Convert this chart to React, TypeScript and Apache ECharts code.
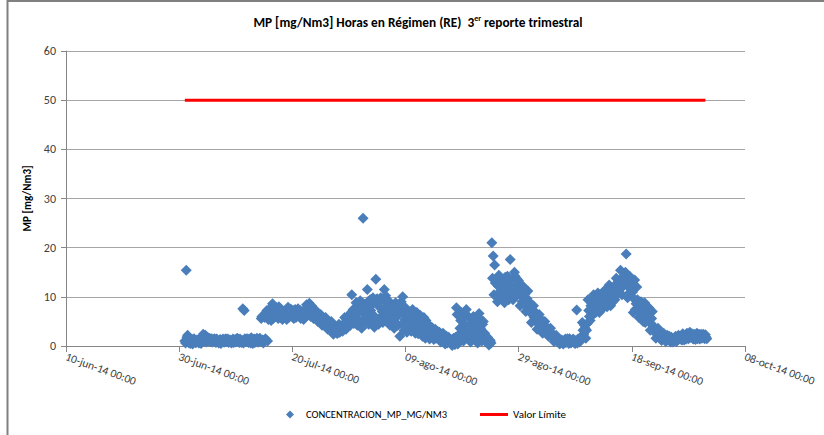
import React, { useEffect, useRef } from 'react';
import * as echarts from 'echarts';

// x axis: days after 10-jun-14 00:00
const xTickLabels = [
  '10-jun-14 00:00',
  '30-jun-14 00:00',
  '20-jul-14 00:00',
  '09-ago-14 00:00',
  '29-ago-14 00:00',
  '18-sep-14 00:00',
  '08-oct-14 00:00',
];
const xTickStepDays = 20;
const xMaxDays = 120;

const yTickValues = [0, 10, 20, 30, 40, 50, 60];

// readings every 6 hours starting 01-jul-14 00:00 (day 21 after 10-jun-14)
const readingsStartDay = 21;
const readingsStepHours = 6;
// 00h, 06h, 12h, 18h readings
const concentrationA = [
  1.0, 15.4, 2.2, 0.6, // 01-jul
  0.5, 1.3, 0.8, 1.2,
  0.7, 1.1, 0.6, 1.3,
  1.0, 2.4, 1.6, 0.8,
  1.8, 1.2, 0.9, 1.5,
  1.0, 1.5, 0.7, 1.2, // 06-jul
  0.6, 1.3, 0.9, 1.4,
  0.8, 1.5, 1.1, 0.7,
  1.2, 0.6, 1.4, 0.9,
  0.8, 1.6, 1.0, 1.4,
  0.7, 7.6, 7.2, 1.3, // 11-jul
  1.5, 0.7, 1.2, 1.7,
  0.5, 1.4, 0.9, 1.6,
  0.8, 1.6, 5.6, 1.2,
  6.3, 1.5, 7.2, 5.4,
  7.5, 5.2, 8.6, 6.0, // 16-jul
  6.0, 7.8, 5.6, 7.0,
  7.4, 5.4, 6.6, 7.2,
  5.4, 7.9, 6.2, 7.5,
  6.8, 5.6, 7.4, 6.0,
  7.6, 6.2, 5.6, 7.0, // 21-jul
  5.4, 7.2, 8.4, 6.4,
  8.7, 6.0, 7.8, 5.6,
  7.4, 6.4, 5.0, 6.0,
  6.4, 4.2, 5.4, 4.6,
  5.4, 3.4, 4.4, 3.8, // 26-jul
  3.6, 2.4, 3.0, 3.9,
  2.6, 4.4, 3.2, 3.8,
  4.0, 5.8, 3.4, 5.0,
  6.2, 4.2, 10.4, 7.4,
  5.0, 8.8, 4.2, 7.0, // 31-jul
  9.2, 3.6, 26.0, 6.4,
  8.0, 11.5, 4.4, 9.4,
  5.2, 9.8, 3.8, 13.6,
  9.6, 4.4, 7.8, 6.0,
  4.8, 11.5, 10.2, 6.6, // 05-ago
  9.2, 4.2, 7.0, 5.6,
  3.6, 8.8, 6.0, 7.8,
  2.0, 9.0, 10.0, 3.2,
  7.8, 2.8, 6.0, 4.4,
  3.0, 7.4, 4.6, 2.6, // 10-ago
  6.8, 2.5, 4.0, 5.6,
  2.0, 5.8, 1.6, 3.8,
  4.4, 1.4, 3.0, 2.2,
  1.3, 3.4, 2.0, 2.8,
  2.8, 0.8, 1.8, 1.2, // 15-ago
  0.4, 2.0, 1.0, 1.5,
  0.6, 0.1, 1.6, 0.3,
  7.8, 0.4, 2.4, 5.2,
  6.6, 1.0, 4.4, 7.4,
  3.0, 5.8, 0.8, 4.6, // 20-ago
  6.0, 2.2, 5.2, 0.6,
  6.6, 3.6, 1.0, 5.0,
  2.6, 0.8, 1.8, 0.2,
  1.0, 21.0, 18.3, 16.5,
  13.5, 9.0, 14.4, 11.0, // 25-ago
  10.2, 13.6, 8.8, 12.4,
  14.2, 9.4, 17.6, 11.8,
  9.4, 15.0, 12.2, 13.6,
  13.2, 8.2, 11.4, 9.8,
  11.8, 7.0, 9.6, 8.4, // 30-ago
  8.8, 4.8, 7.2, 5.8,
  6.8, 3.4, 5.4, 4.2,
  5.4, 2.6, 4.0, 3.2,
  3.8, 2.0, 3.0, 2.4,
  2.4, 0.9, 1.6, 1.2, // 04-sep
  1.4, 0.4, 0.9, 0.6,
  0.6, 1.4, 0.9, 1.2,
  1.5, 0.6, 1.1, 0.8,
  0.5, 7.3, 1.4, 0.8,
  1.2, 4.8, 2.4, 3.6, // 09-sep
  3.2, 9.4, 6.0, 8.2,
  6.2, 10.4, 8.0, 9.2,
  10.8, 6.8, 9.6, 8.0,
  7.8, 11.4, 9.0, 10.6,
  12.4, 8.2, 10.8, 11.8, // 14-sep
  9.4, 13.8, 11.2, 12.6,
  15.4, 10.4, 13.6, 14.6,
  18.7, 9.8, 13.8, 11.6,
  12.8, 6.8, 13.4, 8.6,
  9.4, 5.8, 7.6, 6.4, // 19-sep
  5.0, 8.8, 6.2, 7.6,
  7.8, 3.2, 5.6, 4.0,
  3.8, 1.6, 2.8, 2.0,
  2.8, 1.1, 1.8, 1.4,
  0.9, 2.2, 1.4, 1.0, // 24-sep
  1.8, 0.8, 1.2, 2.0,
  1.1, 2.2, 1.6, 1.3,
  2.5, 1.2, 1.9, 2.6,
  1.5, 2.8, 2.2, 1.6,
  2.4, 1.3, 2.6, 1.8, // 29-sep
  1.4, 2.4, 1.8, 2.2,
  2.3, 1.5, // 01-oct
];

// 03h, 09h, 15h, 21h readings
const concentrationB = [
  0.6, 1.8, 1.2, 0.9, // 01-jul
  1.0, 0.4, 1.5, 0.7,
  1.2, 0.8, 1.0, 0.5,
  2.0, 1.2, 2.2, 1.4,
  1.0, 1.6, 1.3, 0.8,
  1.3, 0.9, 1.4, 0.8, // 06-jul
  1.0, 0.5, 1.2, 0.8,
  1.3, 0.9, 1.4, 1.0,
  0.8, 1.1, 0.7, 1.3,
  1.2, 1.4, 0.7, 1.0,
  1.1, 0.6, 1.5, 0.9, // 11-jul
  1.0, 1.4, 0.6, 1.3,
  1.1, 0.7, 1.3, 0.8,
  1.3, 1.0, 6.0, 0.6,
  5.8, 6.8, 1.0, 6.0,
  6.4, 8.0, 5.6, 7.2, // 16-jul
  7.4, 6.4, 8.0, 5.8,
  6.0, 7.0, 5.8, 6.4,
  6.8, 5.8, 7.2, 6.4,
  7.2, 6.2, 5.8, 7.0,
  6.6, 7.2, 6.8, 5.8, // 21-jul
  6.8, 6.0, 7.6, 7.8,
  7.2, 8.2, 6.6, 7.0,
  6.8, 5.6, 6.2, 5.4,
  5.8, 5.0, 4.4, 5.8,
  4.8, 4.0, 3.6, 5.0, // 26-jul
  3.2, 2.8, 3.6, 2.6,
  3.4, 2.8, 4.0, 3.0,
  4.6, 3.8, 5.4, 4.4,
  5.0, 6.8, 5.6, 4.6,
  6.0, 7.6, 5.4, 8.2, // 31-jul
  7.8, 5.0, 8.6, 4.6,
  6.2, 9.0, 5.4, 7.2,
  8.4, 6.2, 9.4, 4.6,
  8.6, 5.2, 9.8, 7.0,
  9.4, 7.6, 5.4, 8.6, // 05-ago
  6.4, 8.4, 4.8, 8.0,
  5.0, 7.2, 4.2, 6.6,
  8.0, 4.4, 6.8, 5.4,
  3.6, 7.0, 5.2, 3.2,
  6.2, 3.6, 5.6, 4.0, // 10-ago
  3.2, 5.0, 6.2, 3.6,
  4.8, 2.8, 5.2, 2.4,
  3.6, 2.0, 3.8, 1.8,
  2.4, 1.6, 3.0, 1.8,
  2.2, 1.4, 2.6, 0.9, // 15-ago
  1.2, 0.6, 1.8, 0.8,
  1.2, 0.8, 0.4, 1.8,
  6.4, 1.4, 3.6, 6.8,
  5.6, 2.2, 3.2, 6.2,
  2.0, 4.0, 1.8, 5.4, // 20-ago
  4.4, 3.2, 1.4, 3.8,
  5.6, 2.4, 4.4, 2.0,
  1.8, 1.4, 0.6, 1.2,
  0.6, 13.8, 10.4, 12.8,
  10.4, 12.2, 9.6, 13.0, // 25-ago
  11.4, 9.4, 14.0, 10.8,
  12.8, 10.6, 13.4, 9.8,
  11.0, 14.2, 10.2, 12.6,
  10.6, 12.4, 9.0, 12.0,
  10.6, 8.0, 11.2, 7.6, // 30-ago
  7.8, 6.4, 8.2, 5.2,
  6.0, 4.8, 6.4, 3.8,
  4.6, 3.6, 5.0, 2.8,
  3.4, 2.6, 3.6, 2.2,
  2.0, 1.4, 2.2, 1.0, // 04-sep
  1.1, 0.7, 1.2, 0.4,
  1.0, 0.7, 1.5, 0.5,
  1.2, 0.9, 1.4, 0.6,
  1.1, 0.6, 1.2, 1.0,
  2.0, 3.2, 4.2, 1.6, // 09-sep
  4.6, 7.2, 5.2, 8.8,
  7.4, 8.6, 6.8, 9.8,
  7.4, 10.2, 8.6, 9.2,
  8.6, 10.0, 8.0, 11.0,
  9.4, 11.4, 9.0, 12.2, // 14-sep
  10.2, 12.0, 13.2, 10.8,
  11.8, 14.0, 12.4, 15.0,
  12.8, 10.6, 14.2, 12.2,
  11.0, 9.6, 7.4, 12.0,
  8.4, 6.8, 9.0, 5.6, // 19-sep
  6.8, 4.8, 8.2, 5.4,
  6.6, 4.6, 7.0, 3.6,
  3.2, 2.4, 3.6, 1.8,
  2.2, 1.6, 2.6, 1.2,
  1.6, 1.2, 2.0, 0.8, // 24-sep
  1.4, 1.0, 1.6, 0.9,
  1.8, 1.4, 2.0, 1.2,
  1.6, 2.2, 1.4, 2.0,
  2.0, 1.8, 2.5, 1.4,
  1.6, 2.2, 1.5, 2.4, // 29-sep
  2.0, 1.6, 2.4, 1.5,
  1.8, // 01-oct
];

const limitValue = 50;
const limitStartDay = 21; // 01-jul-14 00:00
const limitEndDay = 113; // 01-oct-14 00:00

const FONT = 'Carlito, Calibri, Lato, "Open Sans", sans-serif';

export default function App() {
  const ref = useRef<HTMLDivElement>(null);

  useEffect(() => {
    if (!ref.current) return;
    const chart = echarts.init(ref.current, null, { renderer: 'svg' });
    const stepDays = readingsStepHours / 24;
    const scatterData = [
      ...concentrationA.map((v, i) => [readingsStartDay + i * stepDays, v]),
      ...concentrationB.map((v, i) => [readingsStartDay + stepDays / 2 + i * stepDays, v]),
    ];
    const limitData = [
      [limitStartDay, limitValue],
      [limitEndDay, limitValue],
    ];

    chart.setOption({
      animation: false,
      backgroundColor: '#ffffff',
      textStyle: { fontFamily: FONT },
      grid: { left: 66, right: 79, top: 51, bottom: 89, outerBoundsMode: 'none' },
      xAxis: {
        type: 'value',
        min: 0,
        max: xMaxDays,
        interval: xTickStepDays,
        axisLine: { show: true, lineStyle: { color: '#868686', width: 1 } },
        axisTick: { show: true, length: 6, lineStyle: { color: '#868686' } },
        splitLine: { show: false },
        axisLabel: {
          rotate: -20,
          margin: 10,
          fontSize: 11.5,
          color: '#404040',
          fontFamily: FONT,
          showMinLabel: true,
          showMaxLabel: true,
          formatter: (v: number) => xTickLabels[Math.round(v / xTickStepDays)] ?? '',
        },
      },
      yAxis: {
        type: 'value',
        min: yTickValues[0],
        max: yTickValues[yTickValues.length - 1],
        interval: 10,
        name: 'MP [mg/Nm3]',
        nameLocation: 'middle',
        nameGap: 30,
        nameRotate: 90,
        nameTextStyle: { fontWeight: 'bold', fontSize: 11, color: '#000', fontFamily: FONT },
        axisLine: { show: true, lineStyle: { color: '#868686', width: 1 } },
        axisTick: { show: true, length: 5, lineStyle: { color: '#868686' } },
        splitLine: { show: true, lineStyle: { color: '#a6a6a6', width: 1 } },
        axisLabel: { margin: 10, fontSize: 12, color: '#404040', fontFamily: FONT },
      },
      legend: [
        {
          data: ['CONCENTRACION_MP_MG/NM3'],
          left: 281,
          top: 404,
          icon: 'diamond',
          itemWidth: 8,
          itemHeight: 8,
          textStyle: { fontSize: 10.5, color: '#000', fontFamily: FONT, padding: [0, 0, 0, 7] },
        },
        {
          data: ['Valor Límite'],
          left: 475,
          top: 404,
          icon: 'rect',
          itemWidth: 28,
          itemHeight: 3,
          textStyle: { fontSize: 11, color: '#000', fontFamily: FONT },
        },
      ],
      series: [
        {
          name: 'CONCENTRACION_MP_MG/NM3',
          type: 'scatter',
          symbol: 'diamond',
          symbolSize: 11,
          itemStyle: { color: '#4a7ebb', opacity: 1 },
          data: scatterData,
          z: 2,
        },
        {
          name: 'Valor Límite',
          type: 'line',
          data: limitData,
          symbol: 'none',
          showSymbol: false,
          itemStyle: { color: '#ff0000' },
          lineStyle: { color: '#ff0000', width: 3 },
          z: 3,
        },
      ],
      graphic: [
        {
          type: 'line',
          shape: { x1: 7.5, y1: 0, x2: 7.5, y2: 435 },
          style: { stroke: '#808080', lineWidth: 2 },
        },
        {
          type: 'line',
          shape: { x1: 7, y1: 1, x2: 824, y2: 1 },
          style: { stroke: '#808080', lineWidth: 2 },
        },
        {
          type: 'text',
          x: 418,
          y: 22,
          style: {
            text: '{a|MP [mg/Nm3] Horas en Régimen (RE)  3}{s|er}{a| reporte trimestral}',
            align: 'center',
            verticalAlign: 'middle',
            rich: {
              a: { fontSize: 13.3, fontWeight: 'bold', fontFamily: FONT, fill: '#000', lineHeight: 16 },
              s: { fontSize: 8, fontWeight: 'bold', fontFamily: FONT, fill: '#000', verticalAlign: 'top', lineHeight: 10 },
            },
          },
        },
      ],
    });

    return () => chart.dispose();
  }, []);

  return (
    <div
      ref={ref}
      style={{ position: 'fixed', left: 0, top: 0, width: 824, height: 435, background: '#fff' }}
    />
  );
}
